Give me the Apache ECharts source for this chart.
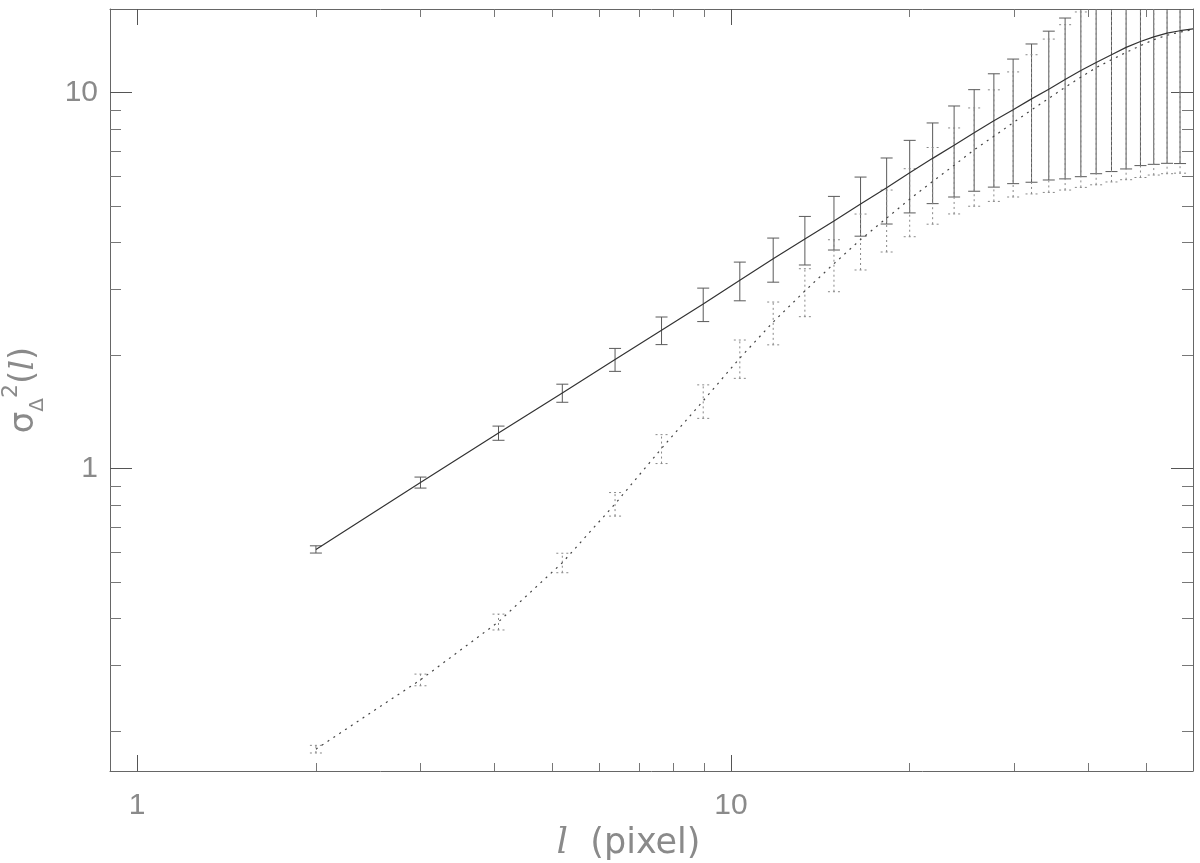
<!DOCTYPE html>
<html>
<head>
<meta charset="utf-8">
<title>structure function</title>
<script src="https://cdn.jsdelivr.net/npm/echarts@6/dist/echarts.min.js"></script>
<style>
  html, body { margin: 0; padding: 0; background: #fff; }
  #chart { width: 1200px; height: 863px; }
</style>
</head>
<body>
<div id="chart"></div>
<script>
// lags l (pixel) where the error bars sit
const lags = [2, 3, 4.06, 5.2, 6.38, 7.64, 8.98, 10.35, 11.78, 13.32, 14.91, 16.53, 18.29, 20, 21.86,
  23.76, 25.68, 27.72, 29.87, 32.08, 34.3, 36.54, 38.84, 41.21, 43.74, 46.29, 48.94, 51.53, 54.26, 57.06]

// solid curve and its error bars
const solidMean = [0.61, 0.919, 1.244, 1.59, 1.952, 2.335, 2.742, 3.17, 3.62, 4.085, 4.558, 5.06, 5.59, 6.13, 6.69,
  7.25, 7.83, 8.42, 9.01, 9.63, 10.22, 10.85, 11.46, 12.04, 12.62, 13.2, 13.69, 14.08, 14.4, 14.62]
const solidErr = [0.0135, 0.031, 0.054, 0.088, 0.137, 0.197, 0.28, 0.374, 0.486, 0.603, 0.742, 0.906, 1.115, 1.34, 1.62,
  1.97, 2.36, 2.81, 3.28, 3.85, 4.36, 4.95, 5.48, 5.95, 6.45, 6.93, 7.29, 7.63, 7.91, 8.14]

// dotted curve and its error bars
const dottedMean = [0.1795, 0.2744, 0.3914, 0.5623, 0.806, 1.132, 1.516, 1.969, 2.455, 2.97, 3.51, 4.067, 4.64, 5.21, 5.81,
  6.41, 7.05, 7.66, 8.32, 9.0, 9.66, 10.34, 11.0, 11.66, 12.24, 12.8, 13.34, 13.84, 14.22, 14.5]
const dottedErr = [0.0042, 0.0098, 0.019, 0.0335, 0.058, 0.1, 0.155, 0.23, 0.32, 0.433, 0.554, 0.69, 0.87, 1.07, 1.34,
  1.65, 2.06, 2.52, 3.04, 3.62, 4.23, 4.83, 5.4, 5.97, 6.45, 6.93, 7.39, 7.8, 8.13, 8.39]

// both curves run on to the right edge
const curveEndLag = 60
const solidEnd = 14.78
const dottedEnd = 14.72

const xRange = [0.9, 60]
const yRange = [0.157, 16.7]
const xMajor = [1, 10]
const xMinor = [2, 3, 4, 5, 6, 7, 8, 9, 20, 30, 40, 50]
const yMajor = [1, 10]
const yMinor = [0.2, 0.3, 0.4, 0.5, 0.6, 0.7, 0.8, 0.9, 2, 3, 4, 5, 6, 7, 8, 9]

const FONT = 'Liberation Sans'
const NAMEFONT = 'DejaVu Sans'
const textGrey = '#8a8a8a'
const axisGrey = '#666'

const barData = (means, errs) => lags.map((l, i) => [l, means[i], errs[i]])
const curveData = (means, end) => lags.map((l, i) => [l, means[i]]).concat([[curveEndLag, end]])

const makeBars = (color, dash) => (params, api) => {
  const x = api.value(0)
  const m = api.value(1)
  const e = api.value(2)
  const lo = api.coord([x, m - e])
  const hi = api.coord([x, m + e])
  const half = 6
  const style = { stroke: color, lineWidth: 1, lineDash: dash }
  return {
    type: 'group',
    children: [
      { type: 'line', shape: { x1: lo[0], y1: lo[1], x2: hi[0], y2: hi[1] }, style },
      { type: 'line', shape: { x1: lo[0] - half, y1: lo[1], x2: lo[0] + half, y2: lo[1] }, style },
      { type: 'line', shape: { x1: hi[0] - half, y1: hi[1], x2: hi[0] + half, y2: hi[1] }, style }
    ]
  }
}

const logAxis = (range, extra) => Object.assign({
  type: 'log',
  logBase: 10,
  min: range[0],
  max: range[1],
  splitLine: { show: false },
  axisLine: { show: false },
  axisLabel: { show: false }
}, extra)

const tick = (values, len, color) => ({
  show: true, inside: true, length: len, customValues: values,
  lineStyle: { color: color, width: 1 }
})

const frame = { show: true, lineStyle: { color: axisGrey, width: 1 } }

const chart = echarts.init(document.getElementById('chart'))
const option = {
  backgroundColor: '#fff',
  animation: false,
  grid: { left: 110, right: 7, top: 9, bottom: 92, outerBoundsMode: 'none', containLabel: false },
  xAxis: [
    logAxis(xRange, {
      position: 'bottom',
      axisLine: frame,
      axisTick: tick(xMajor, 16, '#555'),
      axisLabel: {
        show: true, customValues: xMajor, margin: 20,
        fontFamily: FONT, fontSize: 30, color: textGrey
      },
      name: '{i|l}  (pixel)',
      nameLocation: 'middle',
      nameGap: 46,
      nameTextStyle: {
        fontFamily: NAMEFONT, fontSize: 35, color: textGrey, padding: [0, 46, 0, 0],
        rich: { i: { fontFamily: 'DejaVu Serif', fontStyle: 'italic', fontSize: 36, color: textGrey } }
      }
    }),
    logAxis(xRange, { position: 'bottom', axisTick: tick(xMinor, 8, '#777') }),
    logAxis(xRange, { position: 'top', axisLine: frame, axisTick: tick(xMajor, 16, '#555') }),
    logAxis(xRange, { position: 'top', axisTick: tick(xMinor, 8, '#777') })
  ],
  yAxis: [
    logAxis(yRange, {
      position: 'left',
      axisLine: frame,
      axisTick: tick(yMajor, 22, '#555'),
      axisLabel: {
        show: true, customValues: yMajor, margin: 12,
        fontFamily: FONT, fontSize: 30, color: textGrey
      },
      name: '{s|σ}{sub|Δ}{sup|2}{n|(}{i|l}{n|)}',
      nameLocation: 'middle',
      nameRotate: 90,
      nameGap: 62,
      nameTextStyle: {
        fontFamily: NAMEFONT, fontSize: 34, color: textGrey,
        rich: {
          s: { fontFamily: NAMEFONT, fontSize: 34, lineHeight: 48, color: textGrey },
          sub: { fontFamily: NAMEFONT, fontSize: 20, lineHeight: 48, verticalAlign: 'bottom', color: textGrey },
          sup: { fontFamily: NAMEFONT, fontSize: 22, lineHeight: 22, verticalAlign: 'top', color: textGrey },
          n: { fontFamily: NAMEFONT, fontSize: 34, lineHeight: 48, color: textGrey },
          i: { fontFamily: 'DejaVu Serif', fontStyle: 'italic', fontSize: 34, lineHeight: 48, color: textGrey }
        }
      }
    }),
    logAxis(yRange, { position: 'left', axisTick: tick(yMinor, 11, '#777') }),
    logAxis(yRange, { position: 'right', axisLine: frame, axisTick: tick(yMajor, 22, '#555') }),
    logAxis(yRange, { position: 'right', axisTick: tick(yMinor, 11, '#777') })
  ],
  series: [
    {
      type: 'custom',
      name: 'solid errors',
      clip: true,
      renderItem: makeBars('#5a5a5a', null),
      encode: { x: 0, y: 1 },
      data: barData(solidMean, solidErr),
      silent: true
    },
    {
      type: 'custom',
      name: 'dotted errors',
      clip: true,
      renderItem: makeBars('#888', [2, 3]),
      encode: { x: 0, y: 1 },
      data: barData(dottedMean, dottedErr),
      silent: true
    },
    {
      type: 'line',
      name: 'solid',
      showSymbol: false,
      smooth: false,
      lineStyle: { color: '#333', width: 1.2 },
      data: curveData(solidMean, solidEnd),
      silent: true
    },
    {
      type: 'line',
      name: 'dotted',
      showSymbol: false,
      lineStyle: { color: '#444', width: 1.2, type: [2, 5] },
      data: curveData(dottedMean, dottedEnd),
      silent: true
    }
  ]
}
chart.setOption(option)
</script>
</body>
</html>
